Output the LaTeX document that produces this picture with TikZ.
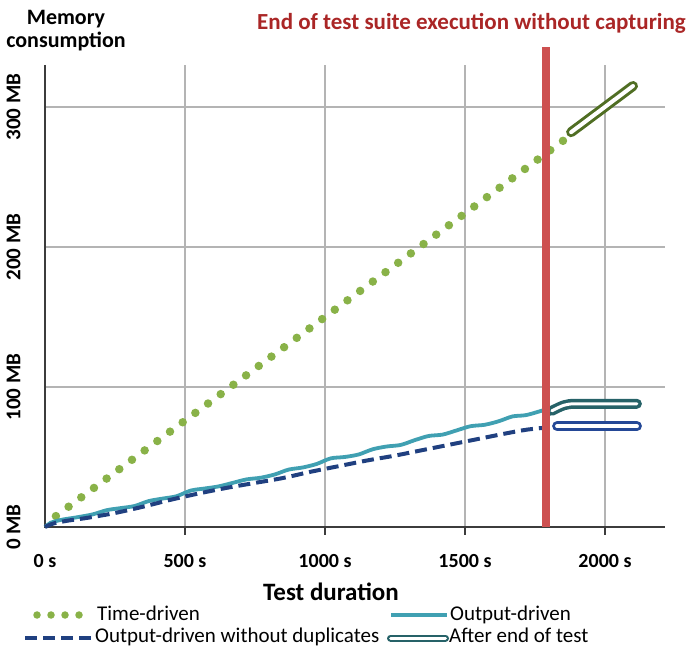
\documentclass[tikz,border=0pt]{standalone}
\usepackage{fontspec}
\setmainfont{Carlito}
\definecolor{dotgreen}{RGB}{137,178,72}
\definecolor{capgreen}{RGB}{80,110,35}
\definecolor{outteal}{RGB}{64,160,178}
\definecolor{capteal}{RGB}{38,98,104}
\definecolor{nodupblue}{RGB}{32,64,128}
\definecolor{capblue}{RGB}{36,72,150}
\definecolor{endred}{RGB}{205,80,80}
\definecolor{titlered}{RGB}{170,38,38}
\definecolor{gridgray}{RGB}{180,180,180}
\definecolor{axisgray}{RGB}{60,60,60}
\tikzset{
  gridline/.style={gridgray, line width=1.1pt},
  axisline/.style={axisgray, line width=1.5pt},
  ticklabel/.style={inner sep=0pt, font=\bfseries\fontsize{20}{20}\selectfont},
  mblabel/.style={inner sep=0pt, rotate=90, font=\bfseries\fontsize{21}{21}\selectfont},
  axistitle/.style={inner sep=0pt, font=\bfseries\fontsize{22}{22}\selectfont},
  legendtext/.style={inner sep=0pt, anchor=base west, font=\fontsize{21}{21}\selectfont},
  timedots/.style={dotgreen, line width=8.5pt, line cap=round, dash pattern=on 0pt off #1},
  outline/.style={outteal, line width=3.8pt, line join=round},
  noduplines/.style={nodupblue, line width=4pt, dash pattern=on 12pt off 6pt},
  capsule/.style={#1, line width=10pt, line cap=round, line join=round},
  capinner/.style={white, line width=4pt, line cap=round, line join=round}
}
\begin{document}
\begin{tikzpicture}[x=1pt, y=1pt]
\useasboundingbox (0,0) rectangle (688,656);

% titles
\node[axistitle, anchor=base] (memlabel) at (66,631) {Memory};
\node[axistitle, anchor=base] (conslabel) at ([yshift=-23pt]memlabel.base) {consumption};
\node[axistitle, text=titlered, font=\bfseries\fontsize{23}{23}\selectfont] (endtitle) at (471.5,633) {End of test suite execution without capturing};
\node[axistitle, font=\bfseries\fontsize{25}{25}\selectfont] (durlabel) at (331,64.5) {Test duration};

\begin{scope}[shift={(45,129)}, x=0.28pt, y=1.4pt]
  % grid
  \foreach \t in {500,1000,1500,2000}
    \draw[gridline] (\t,0) -- (\t,330);
  \foreach \m in {100,200,300}
    \draw[gridline] (0,\m) -- (2214,\m);
  % axes
  \draw[axisline] (0,330) -- (0,0) -- (2214,0);
  \foreach \t in {500,1000,1500,2000}
    \draw[axisline] (\t,0) -- (\t,-5.7);
  \foreach \t in {0,500,1000,1500,2000}
    \node[ticklabel] (xt\t) at (\t,-24.3) {\t\ s};
  \foreach \m in {0,100,200,300}
    \node[mblabel] (yt\m) at (-112.5,\m) {\m\ MB};

  % time-driven
  \draw[timedots=15.77pt] (39,7.8) -- (1851,276);
  % output-driven
  \draw[outline] plot[smooth, tension=0.5] coordinates {(0,0) (20,3) (60,5.2) (110,6.8)
    (170,9) (220,12) (270,13.5) (320,15) (370,18.5) (420,20.3) (470,22) (520,26)
    (570,27.5) (620,29) (670,31.5) (720,34) (770,35.2) (820,37.5) (870,41) (920,42.5)
    (970,45) (1020,49) (1070,50) (1120,51.8) (1170,55.5) (1220,57.5) (1270,58.6)
    (1320,62) (1370,65) (1420,66) (1470,69) (1520,72) (1570,73) (1620,75.5) (1670,79)
    (1720,80) (1789,84)};
  % output-driven without duplicates
  \draw[noduplines] plot[smooth, tension=0.5] coordinates {(0,0) (30,2.5) (80,4.5)
    (150,6.5) (250,10) (350,14.5) (450,19.5) (550,24) (650,28) (750,31.5) (850,35)
    (950,39.5) (1050,43.5) (1150,47.5) (1250,51) (1350,55) (1450,59) (1550,63)
    (1650,67) (1720,69.5) (1789,71)};

  % after end of test
  \draw[capsule=capgreen] (1879,282) -- (2100,315);
  \draw[capinner] (1879,282) -- (2100,315);
  \draw[capsule=capteal] (1810,83) .. controls (1850,87) and (1860,88) .. (1895,88) -- (2114,88);
  \draw[capinner, line width=3pt] (1810,83) .. controls (1850,87) and (1860,88) .. (1895,88) -- (2114,88);
  \draw[capsule=capblue] (1829,72) -- (2114,72);
  \draw[capinner] (1829,72) -- (2114,72);

  % end of test suite
  \draw[endred, line width=8pt] (1789,0) -- (1789,343);
\end{scope}

% legend
\node[legendtext] (lgtime) at (97,35) {Time-driven};
\node[legendtext] (lgout) at (450,35) {Output-driven};
\node[legendtext] (lgnodup) at (95,13) {Output-driven without duplicates};
\node[legendtext] (lgafter) at (449,13) {After end of test};
\draw[timedots=14pt, line width=7.5pt] ([shift={(-60,6)}]lgtime.base west) -- ([shift={(-17,6)}]lgtime.base west);
\draw[outline] ([shift={(-59,6)}]lgout.base west) -- ([shift={(-3,6)}]lgout.base west);
\draw[noduplines] ([shift={(-70,5)}]lgnodup.base west) -- ([shift={(0,5)}]lgnodup.base west);
\draw[capsule=capteal, line width=7pt] ([shift={(-58.5,5)}]lgafter.base west) -- ([shift={(-3.5,5)}]lgafter.base west);
\draw[capinner, line width=3pt] ([shift={(-58.5,5)}]lgafter.base west) -- ([shift={(-3.5,5)}]lgafter.base west);
\end{tikzpicture}
\end{document}
